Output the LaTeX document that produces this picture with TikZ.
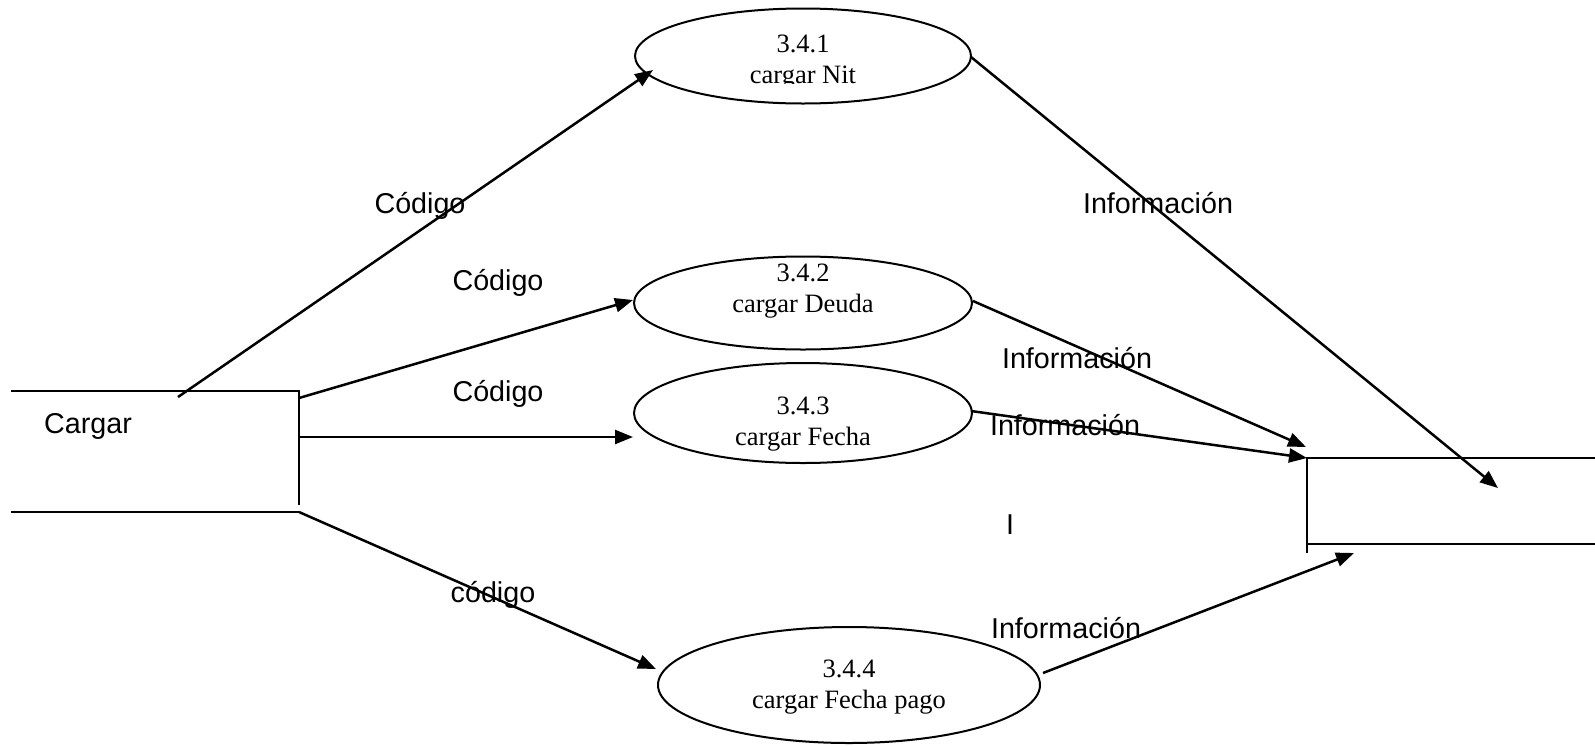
\documentclass[tikz,border=0pt]{standalone}
\usepackage{fontspec}
\setmainfont{Liberation Serif}
\newfontfamily\arialfont{Liberation Sans}
\usetikzlibrary{shapes.geometric,arrows.meta}
\begin{document}
\begin{tikzpicture}[x=0.5pt,y=-0.5pt,line width=1.25pt,
  proc/.style={draw,ellipse,inner sep=0pt,line width=1pt},
  ptext/.style={align=center,inner sep=0pt,font=\fontsize{13.25pt}{15.5pt}\selectfont},
  lbl/.style={inner sep=0pt,font=\arialfont\fontsize{14.35pt}{16pt}\selectfont},
  flow/.style={-{Triangle[length=9pt,width=7pt]}}]
\useasboundingbox (0,0) rectangle (1595,745);

% left data store
\coordinate (L1) at (11,391);
\coordinate (L2) at (299,391);
\coordinate (L3) at (299,505);
\coordinate (L4) at (11,512);
\coordinate (L5) at (299,512);
\draw (L1) -- (L2) -- (L3);
\draw (L4) -- (L5);
\node[lbl] (cargar) at (88,426) {Cargar};

% right data store
\coordinate (R1) at (1595,458);
\coordinate (R2) at (1307,458);
\coordinate (R3) at (1307,553);
\coordinate (R4) at (1307,544);
\coordinate (R5) at (1595,544);
\draw (R1) -- (R2) -- (R3);
\draw (R4) -- (R5);

% processes
\node[proc,minimum width=168pt,minimum height=47.5pt] (p1) at (803,56) {};
\node[proc,minimum width=169pt,minimum height=46.5pt] (p2) at (803,303) {};
\node[proc,minimum width=169pt,minimum height=50pt] (p3) at (803,413) {};
\node[proc,minimum width=191pt,minimum height=58pt] (p4) at (849,685) {};

\begin{scope}
\clip (600,0) rectangle (1000,83);
\node[ptext] (t1) at (803,62.5) {3.4.1\\cargar Nit};
\end{scope}
\node[ptext] (t2) at (803,291.5) {3.4.2\\cargar Deuda};
\node[ptext] (t3) at (803,424) {3.4.3\\cargar Fecha};
\node[ptext] (t4) at (849,687) {3.4.4\\cargar Fecha pago};

% connector end points
\coordinate (s1) at (178,397);
\coordinate (e1) at (653,70);
\coordinate (s2) at (299,398);
\coordinate (e2) at (633,300);
\coordinate (s3) at (299,437);
\coordinate (e3) at (633,437);
\coordinate (e4) at (656,669);
\coordinate (o1) at (971,57);
\coordinate (f1) at (1498,488);
\coordinate (o2) at (973,301);
\coordinate (f2) at (1306,447);
\coordinate (o3) at (971,411);
\coordinate (o4) at (1043,673);
\coordinate (f4) at (1354,553);

\draw[flow] (s1) -- (e1);
\draw[flow] (s2) -- (e2);
\draw[flow] (s3) -- (e3);
\draw[flow] (L5) -- (e4);
\draw[flow] (o1) -- (f1);
\draw[flow] (o2) -- (f2);
\draw[flow] (o3) -- (R2);
\draw[flow] (o4) -- (f4);

% labels
\node[lbl] (c1) at (420,206) {Código};
\node[lbl] (c2) at (498,283) {Código};
\node[lbl] (c3) at (498,394) {Código};
\node[lbl] (c4) at (493,595) {código};
\node[lbl] (i1) at (1158,203) {Información};
\node[lbl] (i2) at (1077,358) {Información};
\node[lbl] (i3) at (1065,425) {Información};
\node[lbl] (i4) at (1066,628) {Información};
\node[lbl] (i5) at (1010,525) {I};
\end{tikzpicture}
\end{document}
